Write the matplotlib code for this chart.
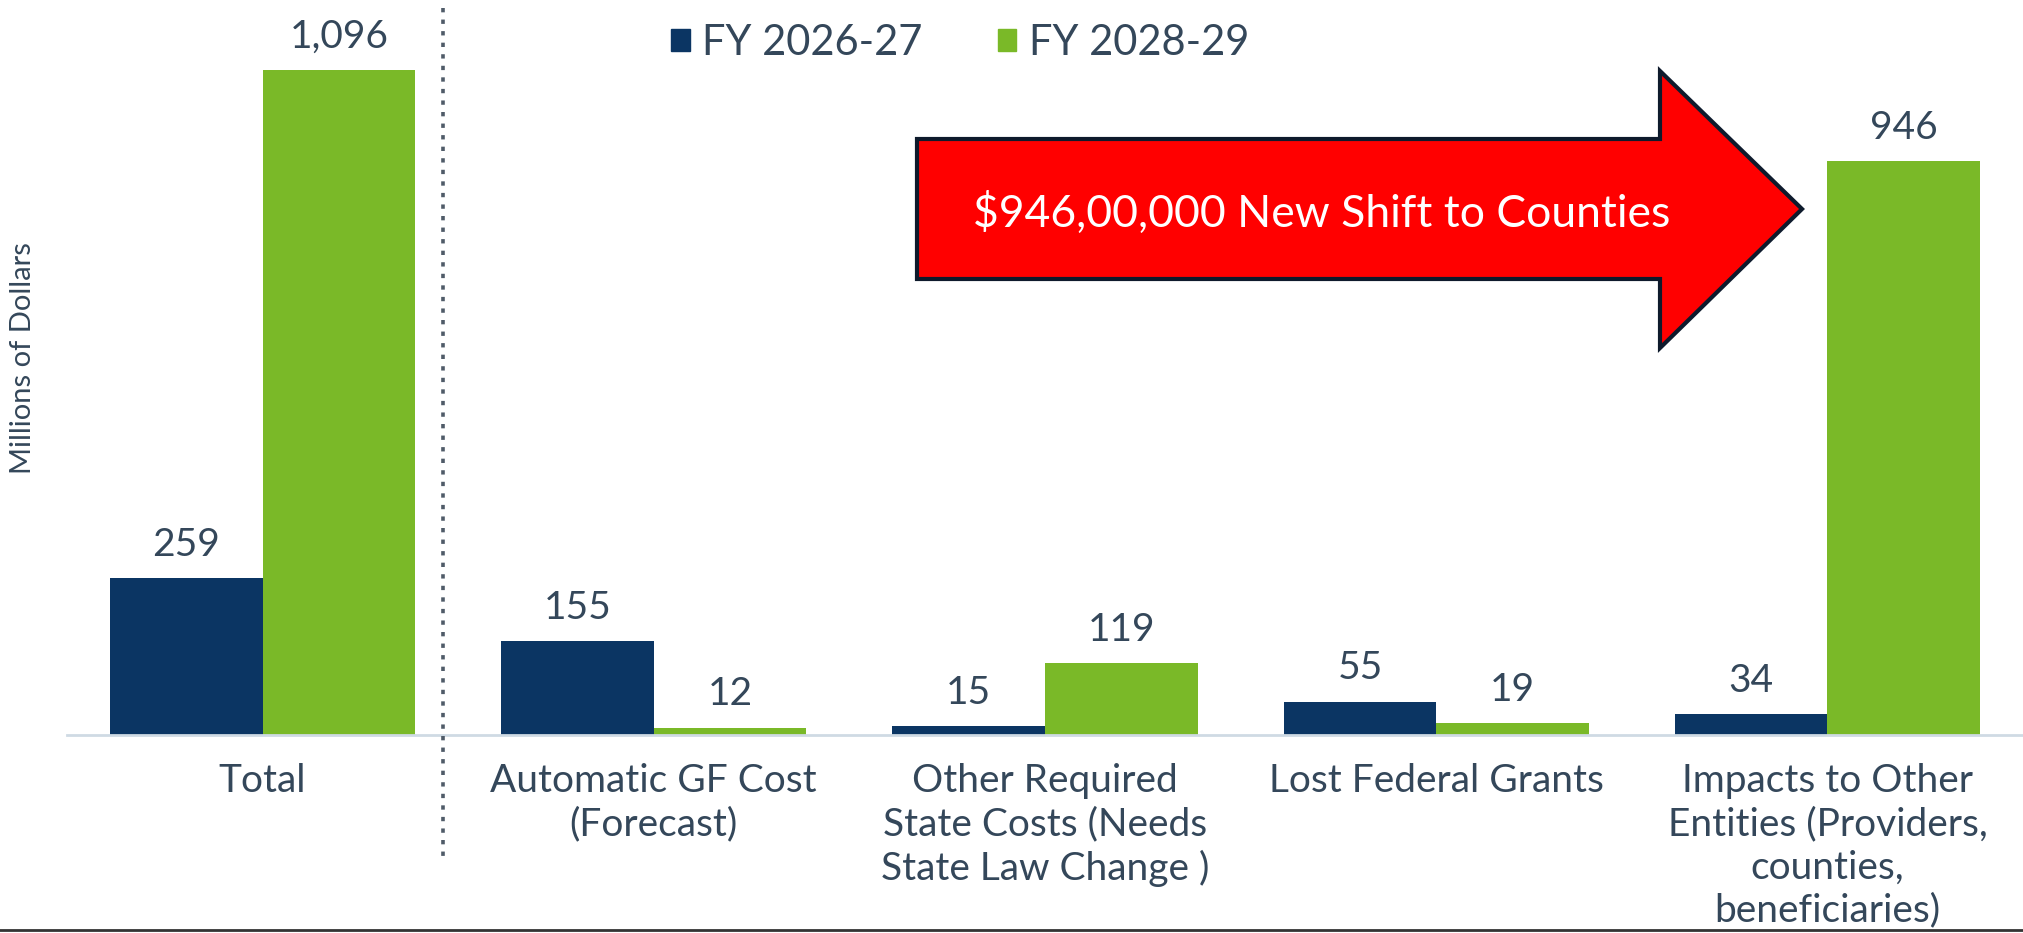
import numpy as np
import matplotlib
matplotlib.use("Agg")
import matplotlib.pyplot as plt
from matplotlib.patches import Polygon, Rectangle
from matplotlib.lines import Line2D

plt.rcParams['font.family'] = ['Lato', 'DejaVu Sans']

categories = ["Total",
              "Automatic GF Cost\n(Forecast)",
              "Other Required\nState Costs (Needs\nState Law Change )",
              "Lost Federal Grants",
              "Impacts to Other\nEntities (Providers,\ncounties,\nbeneficiaries)"]
fy2627 = [259, 155, 15, 55, 34]
fy2829 = [1096, 12, 119, 19, 946]
series_names = ["FY 2026-27", "FY 2028-29"]
arrow_text = "\\$946,00,000 New Shift to Counties"

navy = '#0b3563'
green = '#7ab928'
txt = '#34475a'

W, H = 2023, 933
fig = plt.figure(figsize=(W / 100, H / 100), dpi=100)
ax = fig.add_axes([67 / W, 1 - 735 / H, 1 - 67 / W, 735 / H])

x = np.arange(len(categories))
bw = 0.39
b1 = ax.bar(x - bw / 2, fy2627, bw, color=navy)
b2 = ax.bar(x + bw / 2, fy2829, bw, color=green)

for bars, vals in ((b1, fy2627), (b2, fy2829)):
    for r, v in zip(bars, vals):
        ax.annotate(f"{v:,}", (r.get_x() + r.get_width() / 2, r.get_height()),
                    xytext=(0, 16), textcoords='offset points',
                    ha='center', va='baseline', fontsize=28, color=txt)

ax.set_xlim(-0.5, 4.5)
ax.set_ylim(0, 1211)
ax.set_xticks(x)
ax.set_xticklabels(categories, fontsize=28, color=txt, linespacing=1.25)
ax.tick_params(axis='x', length=0, pad=20)
ax.set_yticks([])
for s in ['top', 'right', 'left']:
    ax.spines[s].set_visible(False)
ax.spines['bottom'].set_color('#cfdae4')
ax.spines['bottom'].set_linewidth(2)

fig.text(23 / W, 1 - 358 / H, "Millions of Dollars", rotation=90,
         ha='center', va='center', fontsize=21, color=txt)

# dotted separator between Total and the components
fig.add_artist(Line2D([443 / W, 443 / W], [1 - 8 / H, 1 - 862 / H],
                      color='#4f5b68', linestyle=(0, (1.2, 2.0)), linewidth=2.6,
                      transform=fig.transFigure))

# legend
handles = [Rectangle((0, 0), 1, 1, color=navy), Rectangle((0, 0), 1, 1, color=green)]
fig.legend(handles, series_names, loc='center', bbox_to_anchor=(960 / W, 1 - 43 / H),
           ncol=2, frameon=False, fontsize=30, handlelength=0.45, handleheight=0.45,
           handletextpad=0.3, columnspacing=1.8, labelcolor=txt)

# big red arrow
pts = [(917, 139), (1660, 139), (1660, 71), (1802, 209),
       (1660, 348), (1660, 279), (917, 279)]
poly = Polygon([(px / W, 1 - py / H) for px, py in pts], closed=True,
               facecolor='#ff0000', edgecolor='#0e1a2c', linewidth=3,
               transform=fig.transFigure, joinstyle='miter')
fig.add_artist(poly)
fig.text(1322 / W, 1 - 213 / H, arrow_text, ha='center', va='center',
         fontsize=32, color='white')

fig.add_artist(Line2D([0, 1], [1 - 930 / H, 1 - 930 / H], color='#333333',
                      linewidth=2, transform=fig.transFigure))

fig.savefig("out.png", dpi=100, facecolor='white')
